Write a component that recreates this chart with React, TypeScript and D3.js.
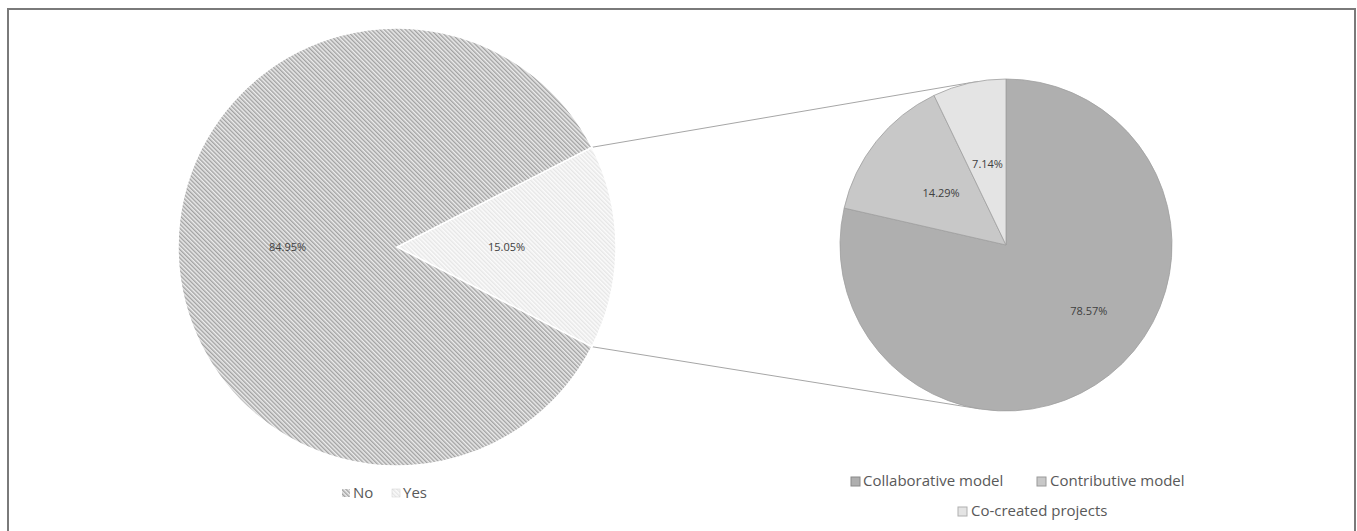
import React from "react";
import * as d3 from "d3";

const mainCategories = ["Yes", "No"];
const mainValues = [15.05, 84.95];
const mainLabels = ["15.05%", "84.95%"];
const legendLeft = ["No", "Yes"];

const subCategories = ["Collaborative model", "Contributive model", "Co-created projects"];
const subValues = [78.57, 14.29, 7.14];
const subLabels = ["78.57%", "14.29%", "7.14%"];
const subColors = ["#afafaf", "#c8c8c8", "#e4e4e4"];

const W = 1357;
const H = 531;
const FONT = "'Open Sans', 'Noto Sans', sans-serif";

export default function App() {
  // Left pie
  const cx1 = 397, cy1 = 247, r1 = 219;
  const yesFrac = mainValues[0] / d3.sum(mainValues);
  const start = Math.PI / 2 - Math.PI * yesFrac;
  const pie1 = d3.pie<number>().sort(null).startAngle(start).endAngle(start + 2 * Math.PI)(mainValues);
  const arc1 = d3.arc<d3.PieArcDatum<number>>().innerRadius(0).outerRadius(r1);
  const label1 = d3.arc<d3.PieArcDatum<number>>().innerRadius(r1 * 0.5).outerRadius(r1 * 0.5);

  // Right pie
  const cx2 = 1006, cy2 = 245, r2 = 166;
  const pie2 = d3.pie<number>().sort(null)(subValues);
  const arc2 = d3.arc<d3.PieArcDatum<number>>().innerRadius(0).outerRadius(r2);
  const labelRadii = [0.64, 0.5, 0.5];
  const labelShift = [-0.22, 0, 0]; // angular nudge (radians) like Excel's best-fit placement

  // connector points: edges of the "Yes" slice on left pie
  const yes = pie1[0];
  const pTop = [cx1 + r1 * Math.sin(yes.startAngle), cy1 - r1 * Math.cos(yes.startAngle)];
  const pBot = [cx1 + r1 * Math.sin(yes.endAngle), cy1 - r1 * Math.cos(yes.endAngle)];
  const tangent = (p: number[], upper: boolean) => {
    const dx = cx2 - p[0], dy = cy2 - p[1];
    const d = Math.hypot(dx, dy);
    const base = Math.atan2(dy, dx);
    const off = Math.asin(r2 / d);
    const ang = upper ? base - off : base + off;
    const len = Math.sqrt(d * d - r2 * r2);
    return [p[0] + len * Math.cos(ang), p[1] + len * Math.sin(ang)];
  };
  const tTop = tangent(pTop, true);
  const tBot = tangent(pBot, false);

  const fills1 = ["url(#hatchLight)", "url(#hatchDark)"];

  return (
    <svg width={W} height={H} style={{ position: "absolute", left: 0, top: 0, background: "#fff" }}>
      <defs>
        <pattern id="hatchDark" patternUnits="userSpaceOnUse" width={3} height={3} patternTransform="rotate(-45)">
          <rect width={3} height={3} fill="#ebebeb" />
          <rect width={1.4} height={3} fill="#a2a2a2" />
        </pattern>
        <pattern id="hatchLight" patternUnits="userSpaceOnUse" width={3} height={3} patternTransform="rotate(-45)">
          <rect width={3} height={3} fill="#fbfbfb" />
          <rect width={1.4} height={3} fill="#e6e6e6" />
        </pattern>
      </defs>
      <rect x={8} y={9} width={1347} height={560} fill="none" stroke="#7a7a7a" strokeWidth={2} />

      {/* connector lines */}
      <line x1={pTop[0]} y1={pTop[1]} x2={tTop[0]} y2={tTop[1]} stroke="#a6a6a6" strokeWidth={1} />
      <line x1={pBot[0]} y1={pBot[1]} x2={tBot[0]} y2={tBot[1]} stroke="#a6a6a6" strokeWidth={1} />

      <g transform={`translate(${cx1},${cy1})`}>
        {pie1.map((d, i) => (
          <path key={i} d={arc1(d) || ""} fill={fills1[i]} stroke="#fff" strokeWidth={1.5} />
        ))}
        {pie1.map((d, i) => {
          const [x, y] = label1.centroid(d);
          return (
            <text key={i} x={x} y={y} dy="0.35em" textAnchor="middle" fontFamily={FONT} fontSize={11} fill="#404040">
              {mainLabels[i]}
            </text>
          );
        })}
      </g>

      <g transform={`translate(${cx2},${cy2})`}>
        {pie2.map((d, i) => (
          <path key={i} d={arc2(d) || ""} fill={subColors[i]} stroke="#a0a0a0" strokeWidth={0.8} />
        ))}
        {pie2.map((d, i) => {
          const a = (d.startAngle + d.endAngle) / 2 + labelShift[i];
          const rr = r2 * labelRadii[i];
          return (
            <text key={i} x={rr * Math.sin(a)} y={-rr * Math.cos(a)} dy="0.35em" textAnchor="middle" fontFamily={FONT} fontSize={11} fill="#404040">
              {subLabels[i]}
            </text>
          );
        })}
      </g>

      {/* left legend */}
      <g fontFamily={FONT} fontSize={15} fill="#595959">
        <rect x={342} y={489} width={8} height={8} fill="url(#hatchDark)" />
        <text x={353} y={493} dy="0.35em">{legendLeft[0]}</text>
        <rect x={392} y={489} width={8} height={8} fill="url(#hatchLight)" stroke="#d0d0d0" strokeWidth={0.5} />
        <text x={403} y={493} dy="0.35em">{legendLeft[1]}</text>
      </g>

      {/* right legend */}
      <g fontFamily={FONT} fontSize={15} fill="#595959">
        <rect x={851} y={477} width={9} height={9} fill={subColors[0]} stroke="#8a8a8a" strokeWidth={1} />
        <text x={863} y={481} dy="0.35em">{subCategories[0]}</text>
        <rect x={1037} y={477} width={9} height={9} fill={subColors[1]} stroke="#9a9a9a" strokeWidth={1} />
        <text x={1050} y={481} dy="0.35em">{subCategories[1]}</text>
        <rect x={958} y={507} width={9} height={9} fill={subColors[2]} stroke="#b0b0b0" strokeWidth={1} />
        <text x={971} y={511} dy="0.35em">{subCategories[2]}</text>
      </g>
    </svg>
  );
}
